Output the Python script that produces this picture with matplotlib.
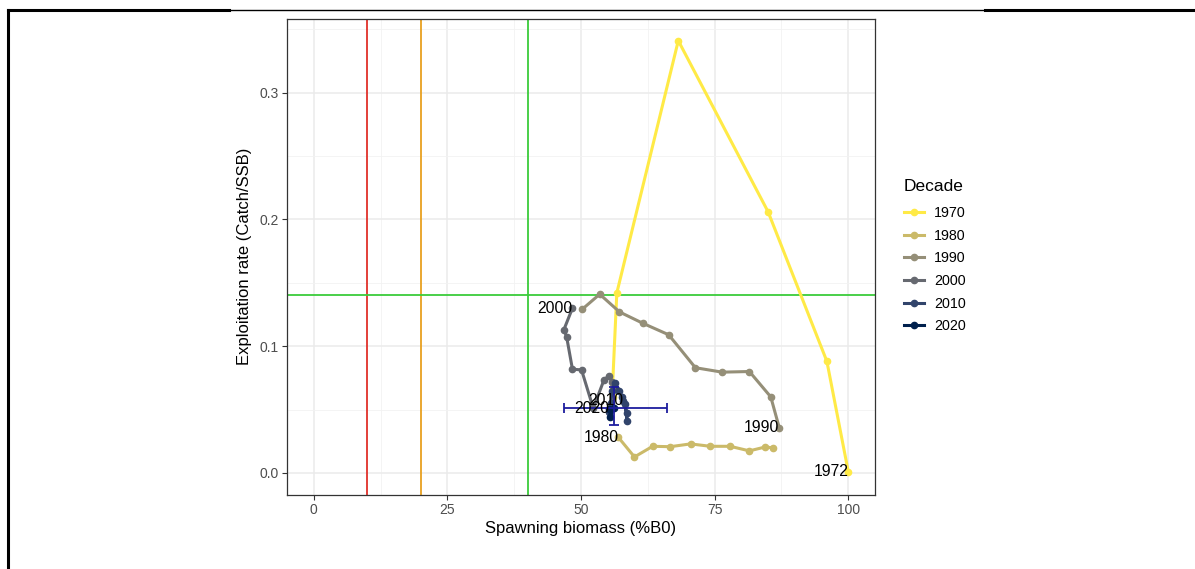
import matplotlib
matplotlib.use("Agg")
import matplotlib.pyplot as plt
from matplotlib.lines import Line2D
import numpy as np

plt.rcParams["font.family"] = ["Liberation Sans", "DejaVu Sans"]

# Spawning biomass (%B0) and exploitation rate (catch/SSB) by decade
ssb_1970 = [100.0, 96.0, 85.0, 68.2, 56.7, 55.9, 56.0, 55.6]
er_1970 = [0.001, 0.088, 0.206, 0.341, 0.142, 0.068, 0.060, 0.052]

ssb_1980 = [57.0, 60.0, 63.4, 66.7, 70.5, 74.2, 77.9, 81.5, 84.5, 86.0]
er_1980 = [0.028, 0.0126, 0.021, 0.0207, 0.0229, 0.021, 0.021, 0.0174, 0.0205, 0.0197]

ssb_1990 = [87.1, 85.5, 81.5, 76.4, 71.4, 66.4, 61.6, 57.2, 53.5, 50.2]
er_1990 = [0.0355, 0.060, 0.080, 0.0795, 0.083, 0.109, 0.118, 0.127, 0.141, 0.129]

ssb_2000 = [48.4, 46.8, 47.3, 48.4, 50.1, 52.3, 54.3, 55.2, 55.8, 56.5]
er_2000 = [0.130, 0.113, 0.1076, 0.0818, 0.0813, 0.051, 0.0734, 0.0765, 0.072, 0.066]

ssb_2010 = [57.9, 58.6, 58.6, 58.3, 57.6, 57.1, 56.3, 55.8, 55.6, 55.3]
er_2010 = [0.057, 0.047, 0.041, 0.054, 0.060, 0.065, 0.071, 0.065, 0.055, 0.048]

ssb_2020 = [55.3, 55.5, 56.1]
er_2020 = [0.0505, 0.044, 0.0516]

first_years = ["1972", "1980", "1990", "2000", "2010", "2020"]
decades = ["1970", "1980", "1990", "2000", "2010", "2020"]

# latest year uncertainty
ssb_ci = [46.9, 66.1]
er_ci = [0.038, 0.068]

# reference points
lim_red = 10
lim_orange = 20
target_ssb = 40
target_er = 0.14

# cividis, reversed
colors = ["#FFEA46", "#CBBA69", "#958F78", "#666970", "#31446B", "#00204D"]

series = [(ssb_1970, er_1970), (ssb_1980, er_1980), (ssb_1990, er_1990),
          (ssb_2000, er_2000), (ssb_2010, er_2010), (ssb_2020, er_2020)]

W, H = 1195, 569
fig = plt.figure(figsize=(W / 100, H / 100), dpi=100)
ax = fig.add_axes([287 / W, 1 - 494.6 / H, (875 - 287) / W, (494.6 - 19) / H])

# grid like theme_bw
ax.set_xlim(-5, 105)
ax.set_ylim(-0.0171, 0.3581)
ax.set_xticks([0, 25, 50, 75, 100])
ax.set_yticks([0.0, 0.1, 0.2, 0.3])
ax.set_yticklabels(["0.0", "0.1", "0.2", "0.3"])
ax.set_xticks([12.5, 37.5, 62.5, 87.5], minor=True)
ax.set_yticks([0.05, 0.15, 0.25, 0.35], minor=True)
ax.grid(True, which="major", color="#EBEBEB", linewidth=1.1, zorder=0)
ax.grid(True, which="minor", color="#F2F2F2", linewidth=0.6, zorder=0)
ax.set_axisbelow(True)
for sp in ax.spines.values():
    sp.set_color("#333333")
    sp.set_linewidth(0.9)
ax.tick_params(which="major", length=3.5, width=0.8, color="#333333",
               labelsize=10, labelcolor="#4D4D4D", pad=2.5)
ax.tick_params(which="minor", length=0)

ax.axvline(lim_red, color="#E0302A", linewidth=1.3, zorder=1)
ax.axvline(lim_orange, color="#E8A020", linewidth=1.3, zorder=1)
ax.axvline(target_ssb, color="#3ACC3A", linewidth=1.3, zorder=1)
ax.axhline(target_er, color="#3ACC3A", linewidth=1.3, zorder=1)

for (x, y), c in zip(series, colors):
    ax.plot(x, y, color=c, linewidth=2.2, marker="o", markersize=4.5, zorder=3)

# error bars for the latest year
ax.errorbar(ssb_2020[-1], er_2020[-1],
            xerr=[[ssb_2020[-1] - ssb_ci[0]], [ssb_ci[1] - ssb_2020[-1]]],
            yerr=[[er_2020[-1] - er_ci[0]], [er_ci[1] - er_2020[-1]]],
            color="#1C1C9E", linewidth=1.3, capsize=3.6, capthick=1.3, zorder=4)

for (x, y), lab in zip(series, first_years):
    ax.text(x[0], y[0], lab, ha="right", va="center", fontsize=11.3,
            color="black", zorder=5)

ax.set_xlabel("Spawning biomass (%B0)", fontsize=12, color="black", labelpad=3)
ax.set_ylabel("Exploitation rate (Catch/SSB)", fontsize=12, color="black", labelpad=5)

handles = [Line2D([], [], color=c, linewidth=2.2, marker="o", markersize=4.5)
           for c in colors]
leg = ax.legend(handles, decades, title="Decade", loc="upper left",
                bbox_to_anchor=(898 / W, 1 - 173 / H), bbox_transform=fig.transFigure,
                frameon=False, fontsize=10.3, title_fontsize=12.5, handlelength=1.4,
                handletextpad=0.7, labelspacing=0.6, borderaxespad=0)
leg._legend_box.align = "left"
leg._legend_box.sep = 9

# frame around the figure cell
fig.add_artist(Line2D([8 / W, 8 / W], [1 - 10 / H, 0], transform=fig.transFigure,
                      color="black", linewidth=2.2))
fig.add_artist(Line2D([8 / W, 229 / W], [1 - 10 / H, 1 - 10 / H], transform=fig.transFigure,
                      color="black", linewidth=2.2))
fig.add_artist(Line2D([229 / W, 985 / W], [1 - 10 / H, 1 - 10 / H], transform=fig.transFigure,
                      color="black", linewidth=1.0))
fig.add_artist(Line2D([985 / W, 1194 / W], [1 - 10 / H, 1 - 10 / H], transform=fig.transFigure,
                      color="black", linewidth=2.2))

fig.savefig("out.png", dpi=100, facecolor="white")
